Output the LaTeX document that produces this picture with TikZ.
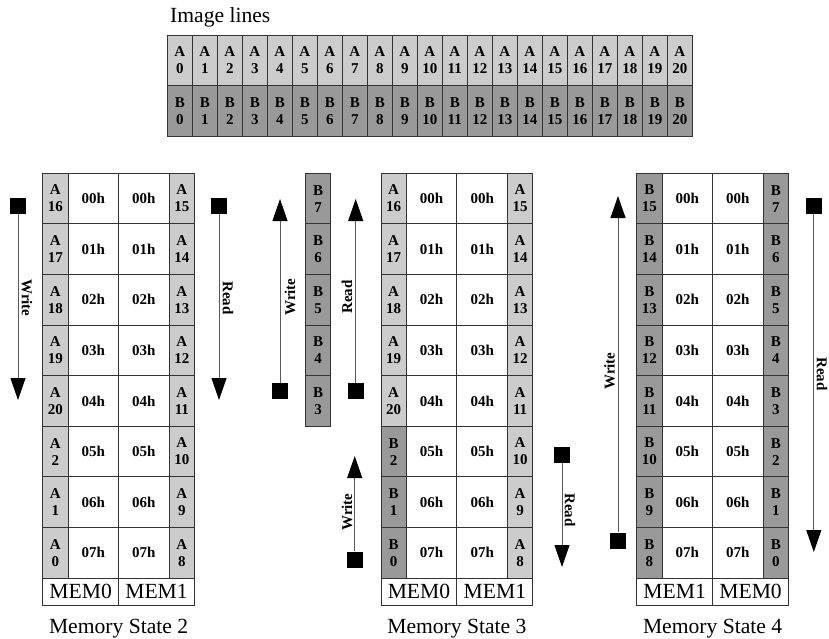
\documentclass[tikz,border=0pt]{standalone}
\usepackage{fontspec}
\setmainfont{Liberation Serif}
\usetikzlibrary{arrows.meta}
\newcommand{\cellfont}{\fontsize{15}{17}\selectfont\bfseries}
\newcommand{\bigfont}{\fontsize{21.6}{24}\selectfont}
\tikzset{
  cellA/.style={draw=black!80, fill=gray!40, line width=0.9pt, minimum width=25.3pt,
    minimum height=50.6pt, inner sep=0pt, align=center, font=\cellfont},
  cellB/.style={cellA, fill=gray!80},
  addr/.style={cellA, fill=white, minimum width=50.6pt},
  memname/.style={cellA, fill=white, minimum width=75.9pt, minimum height=27pt, font=\bigfont},
  startsq/.style={fill=black, minimum size=16pt, inner sep=0pt},
  flow/.style={draw=black!65, line width=1pt, -{Triangle[length=22pt, width=15pt, color=black]}},
  dirlabel/.style={font=\cellfont, inner sep=0pt}
}
% #1 name, #2 left edge, #3 left column, #4 right column, #5/#6 memories, #7 title
\newcommand{\mempanel}[7]{
\begin{scope}[shift={(#2,173.3)}]
\foreach \c/\n [count=\r from 0] in {#3}
  \node[cell\c] (#1l\r) at (12.65,25.3+50.6*\r) {\c\\\n};
\foreach \c/\n [count=\r from 0] in {#4}
  \node[cell\c] (#1r\r) at (139.15,25.3+50.6*\r) {\c\\\n};
\foreach \r in {0,...,7} {
  \node[addr] (#1a\r) at (50.6,25.3+50.6*\r) {0\r h};
  \node[addr] (#1b\r) at (101.2,25.3+50.6*\r) {0\r h};
}
\node[memname] (#1x) at (37.95,418.3) {#5};
\node[memname] (#1y) at (113.85,418.3) {#6};
\node[font=\bigfont] (#1t) at (75.9,455) {#7};
\end{scope}}

\begin{document}
\begin{tikzpicture}[x=1pt, y=-1pt]
\useasboundingbox (0,0) rectangle (829,639);

\node[font=\bigfont, anchor=west, inner sep=0pt] (title) at (170,17) {Image lines};
\begin{scope}[shift={(167.3,35)}]
\foreach \i in {0,...,20} {
  \node[cellA, minimum width=25pt, minimum height=50.5pt] (ia\i) at (12.5+25*\i,25.25) {A\\\i};
  \node[cellB, minimum width=25pt, minimum height=50.5pt] (ib\i) at (12.5+25*\i,75.75) {B\\\i};
}
\end{scope}

\mempanel{p2}{42.7}{A/16,A/17,A/18,A/19,A/20,A/2,A/1,A/0}{A/15,A/14,A/13,A/12,A/11,A/10,A/9,A/8}{MEM0}{MEM1}{Memory State 2}
\mempanel{p3}{381}{A/16,A/17,A/18,A/19,A/20,B/2,B/1,B/0}{A/15,A/14,A/13,A/12,A/11,A/10,A/9,A/8}{MEM0}{MEM1}{Memory State 3}
\mempanel{p4}{636.7}{B/15,B/14,B/13,B/12,B/11,B/10,B/9,B/8}{B/7,B/6,B/5,B/4,B/3,B/2,B/1,B/0}{MEM1}{MEM0}{Memory State 4}

\begin{scope}[shift={(305.7,173.3)}]
\foreach \n [count=\r from 0] in {7,6,5,4,3}
  \node[cellB, minimum width=25pt] (q\r) at (12.5,25.3+50.6*\r) {B\\\n};
\end{scope}

\node[startsq] (w2) at (18,205.5) {};
\coordinate (w2end) at (18,400);
\draw[flow] (w2) -- (w2end);
\node[dirlabel, rotate=-90] (w2lbl) at (27,298) {Write};
\node[startsq] (r2) at (219,205.5) {};
\coordinate (r2end) at (219,400);
\draw[flow] (r2) -- (r2end);
\node[dirlabel, rotate=-90] (r2lbl) at (228,298) {Read};

\node[startsq] (w3) at (280,391) {};
\coordinate (w3end) at (280,199);
\draw[flow] (w3) -- (w3end);
\node[dirlabel, rotate=90] (w3lbl) at (290,297) {Write};
\node[startsq] (r3) at (355.7,391) {};
\coordinate (r3end) at (355.7,199);
\draw[flow] (r3) -- (r3end);
\node[dirlabel, rotate=90] (r3lbl) at (347,297) {Read};

\node[startsq] (w3b) at (354.7,559.5) {};
\coordinate (w3bend) at (354.7,456);
\draw[flow] (w3b) -- (w3bend);
\node[dirlabel, rotate=90] (w3blbl) at (347,512) {Write};
\node[startsq] (r3b) at (562,455) {};
\coordinate (r3bend) at (562,567);
\draw[flow] (r3b) -- (r3bend);
\node[dirlabel, rotate=-90] (r3blbl) at (570,510) {Read};

\node[startsq] (w4) at (618,540.5) {};
\coordinate (w4end) at (618,196);
\draw[flow] (w4) -- (w4end);
\node[dirlabel, rotate=90] (w4lbl) at (609.5,371) {Write};
\node[startsq] (r4) at (813.8,206) {};
\coordinate (r4end) at (813.8,552);
\draw[flow] (r4) -- (r4end);
\node[dirlabel, rotate=-90] (r4lbl) at (822,374) {Read};
\end{tikzpicture}
\end{document}
